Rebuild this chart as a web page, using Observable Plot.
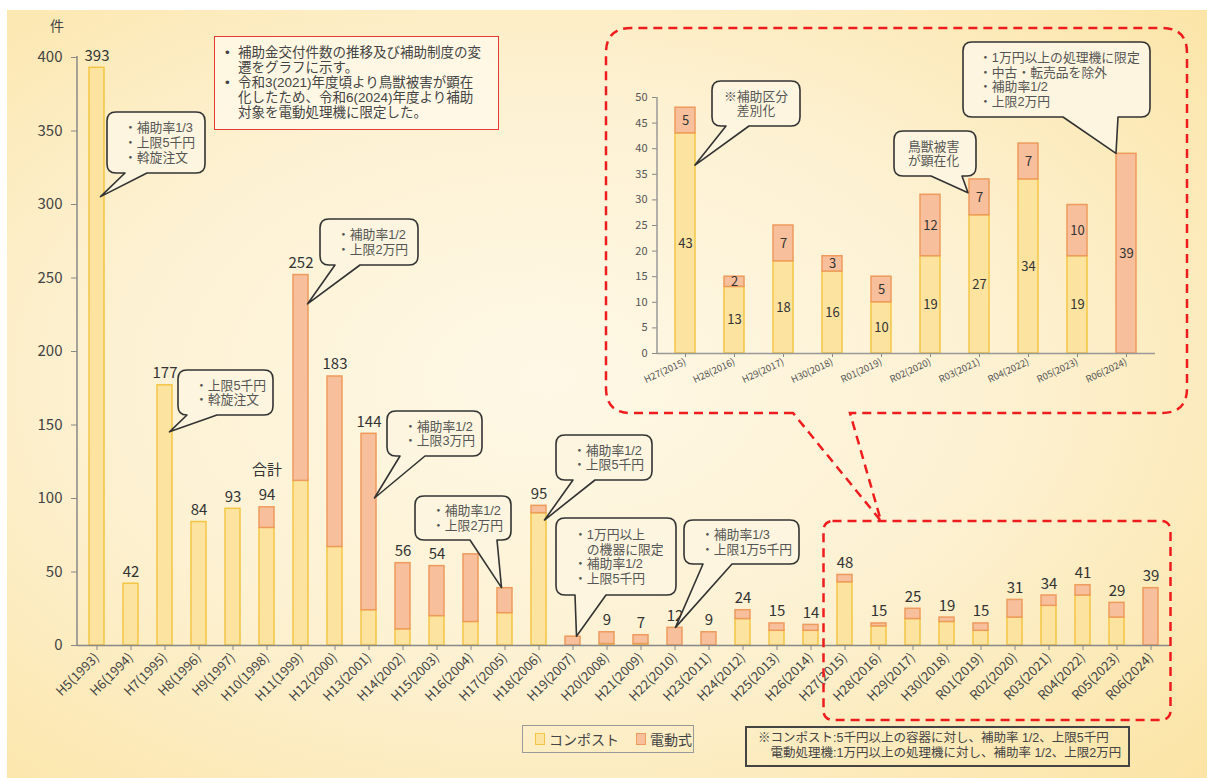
<!DOCTYPE html>
<html>
<head>
<meta charset="utf-8">
<script src="https://cdn.jsdelivr.net/npm/d3@7"></script>
<script src="https://cdn.jsdelivr.net/npm/@observablehq/plot@0.6"></script>
<style>
  body { margin: 0; background: #fff; font-family: "Noto Sans CJK JP", "Noto Sans", sans-serif; }
  #page { position: relative; width: 1207px; height: 778px; overflow: hidden; background: #fff; }
  #bg { position: absolute; left: 7px; top: 10px; right: 0; bottom: 0;
        background: radial-gradient(ellipse 75% 75% at 45% 48%, #fef8e6 0%, #fdf1d2 50%, #fbe4a5 100%); }
  #main { position: absolute; left: 0; top: 0; }
  #inset { position: absolute; left: 606px; top: 28px; }
  #overlay { position: absolute; left: 0; top: 0; pointer-events: none; }
  .tight { font-family: "Liberation Sans", "Noto Sans CJK JP", sans-serif; }
  #note { position: absolute; left: 214px; top: 36px; width: 285px; height: 94px; box-sizing: border-box;
          border: 1.5px solid #e53935; background: rgba(255,251,238,0.7); padding: 8px 4px 0 10px;
          font-size: 13.5px; line-height: 15px; color: #444; white-space: nowrap; }
  #note .item { display: flex; }
  #note .b { width: 13px; flex: none; }
  #legend { position: absolute; left: 522px; top: 725px; width: 172px; height: 28px; box-sizing: border-box;
            border: 1.5px solid #999; display: flex; align-items: center; padding-left: 12px;
            font-size: 14px; color: #444; white-space: nowrap; }
  #legend .sw { display: inline-block; width: 8px; height: 10px; border: 1.5px solid; margin-right: 4px; flex: none; }
  #legend .it { display: flex; align-items: center; margin-right: 17px; flex: none; }
  #cond { position: absolute; left: 745px; top: 726px; width: 385px; height: 41px; box-sizing: border-box;
          border: 2px solid #444; font-size: 12.5px; line-height: 14.5px; color: #444; padding: 3px 0 0 11px;
          white-space: nowrap; }
</style>
</head>
<body>
<div id="page">
  <div id="bg"></div>
  <div id="mainWrap"></div>
  <div id="insetWrap"></div>
  <div id="note" class="tight"></div>
  <div id="legend"></div>
  <div id="cond" class="tight"></div>
</div>
<script>
const FONT = '"Noto Sans CJK JP", "Noto Sans", sans-serif';
const TIGHT = '"Liberation Sans", "Noto Sans CJK JP", sans-serif';

// ---------- data ----------
const categories = ["H5(1993)","H6(1994)","H7(1995)","H8(1996)","H9(1997)","H10(1998)","H11(1999)","H12(2000)",
  "H13(2001)","H14(2002)","H15(2003)","H16(2004)","H17(2005)","H18(2006)","H19(2007)","H20(2008)","H21(2009)",
  "H22(2010)","H23(2011)","H24(2012)","H25(2013)","H26(2014)","H27(2015)","H28(2016)","H29(2017)","H30(2018)",
  "R01(2019)","R02(2020)","R03(2021)","R04(2022)","R05(2023)","R06(2024)"];
const compost  = [393,42,177,84,93,80,112,67,24,11,20,16,22,90,0,1,1,0,0,18,10,10,43,13,18,16,10,19,27,34,19,0];
const electric = [0,0,0,0,0,14,140,116,120,45,34,46,17,5,6,8,6,12,9,6,5,4,5,2,7,3,5,12,7,7,10,39];
const hiddenTotals = ["H16(2004)","H17(2005)","H19(2007)"];
const totalNote = {cat: "H10(1998)", text: "合計"};
const insetCategories = ["H27(2015)","H28(2016)","H29(2017)","H30(2018)","R01(2019)","R02(2020)","R03(2021)","R04(2022)","R05(2023)","R06(2024)"];
const series = ["コンポスト", "電動式"];
const yTicksMain = [0,50,100,150,200,250,300,350,400];
const yTicksInset = [0,5,10,15,20,25,30,35,40,45,50];
const yUnit = "件";

const noteLines = [
  ["補助金交付件数の推移及び補助制度の変", "遷をグラフに示す。"],
  ["令和3(2021)年度頃より鳥獣被害が顕在", "化したため、令和6(2024)年度より補助", "対象を電動処理機に限定した。"]
];
const condLines = [
  "※コンポスト:5千円以上の容器に対し、補助率 1/2、上限5千円",
  "　電動処理機:1万円以上の処理機に対し、補助率 1/2、上限2万円"
];

// callout texts and what they point at (category, value)
const mainCallouts = [
  {lines: ["・補助率1/3","・上限5千円","・斡旋注文"], cat: "H5(1993)", value: 305},
  {lines: ["・補助率1/2","・上限2万円"], cat: "H11(1999)", value: 232},
  {lines: ["・上限5千円","・斡旋注文"], cat: "H7(1995)", value: 145},
  {lines: ["・補助率1/2","・上限3万円"], cat: "H13(2001)", value: 100},
  {lines: ["・補助率1/2","・上限2万円"], cat: "H17(2005)", value: 39},
  {lines: ["・補助率1/2","・上限5千円"], cat: "H18(2006)", value: 85},
  {lines: ["・1万円以上","　の機器に限定","・補助率1/2","・上限5千円"], cat: "H19(2007)", value: 6},
  {lines: ["・補助率1/3","・上限1万5千円"], cat: "H22(2010)", value: 12}
];
const insetCallouts = [
  {lines: ["※補助区分","差別化"], cat: "H27(2015)", value: 36.7, center: true},
  {lines: ["鳥獣被害","が顕在化"], cat: "R03(2021)", value: 31.3},
  {lines: ["・1万円以上の処理機に限定","・中古・転売品を除外","・補助率1/2","・上限2万円"], cat: "R06(2024)", value: 39}
];

// ---------- layout (pixels) ----------
const mainCalloutLayout = [
  {box: [107,112,98,61], base: [125,147], dx: 4},
  {box: [320,219,98,46], base: [335,360], dx: 7},
  {box: [178,370,95,45], base: [187,217], dx: 5},
  {box: [387,411,95,45], base: [400,425], dx: 6},
  {box: [415,496,96,44], base: [470,497], dx: -3},
  {box: [556,435,96,45], base: [573,595], dx: 6},
  {box: [556,518,120,77], base: [575,606], dx: 4, pad: 18},
  {box: [684,520,115,44], base: [703,732], dx: 1}
];
const insetOrigin = [606, 28];
const insetCalloutLayout = [
  {box: [712,81,88,45], base: [726,749], dx: 10},
  {box: [894,131,82,45], base: [931,962], dx: -11, pad: 14},
  {box: [963,42,187,75], base: [1063,1118], dx: -10, pad: 16}
];

const fills = {"コンポスト": "#fde3a0", "電動式": "#f7bf9b"};
const strokes = {"コンポスト": "#f3c545", "電動式": "#ee9b5e"};

// ---------- derived tables ----------
const rows = categories.flatMap((c, i) => [
  {cat: c, type: series[0], value: compost[i]},
  {cat: c, type: series[1], value: electric[i]}
]).filter(d => d.value > 0);
const totals = categories.map((c, i) => ({cat: c, total: compost[i] + electric[i]}));
const insetRows = rows.filter(d => insetCategories.includes(d.cat));

// ---------- helpers ----------
function calloutPath(box, base, tx, ty) {
  const [x, y, w, h] = box, r = 9, b = y + h;
  return `M${base[0]},${b} L${tx},${ty} L${base[1]},${b} L${x+w-r},${b} Q${x+w},${b} ${x+w},${b-r} L${x+w},${y+r} Q${x+w},${y} ${x+w-r},${y} L${x+r},${y} Q${x},${y} ${x},${y+r} L${x},${b-r} Q${x},${b} ${x+r},${b} Z`;
}
function drawCallouts(g, scales, list, layout, origin) {
  const xs = scales.x, ys = scales.y;
  const bw = typeof xs.bandwidth === "function" ? xs.bandwidth() : 0;
  const [ox, oy] = origin;
  list.forEach((c, i) => {
    const L = layout[i];
    const box = [L.box[0]-ox, L.box[1]-oy, L.box[2], L.box[3]];
    const base = [L.base[0]-ox, L.base[1]-ox];
    const tx = xs(c.cat) + bw/2 + L.dx, ty = ys(c.value);
    g.append("path").attr("d", calloutPath(box, base, tx, ty))
      .attr("fill", "#fdf5df").attr("stroke", "#333").attr("stroke-width", 1.6).attr("stroke-linejoin", "round");
    const lh = 14.8, n = c.lines.length;
    const cy = box[1] + box[3]/2;
    c.lines.forEach((t, k) => {
      g.append("text")
        .attr("x", c.center ? box[0] + box[2]/2 : box[0] + (L.pad ?? 17))
        .attr("y", cy + (k - (n-1)/2) * lh)
        .attr("dominant-baseline", "central")
        .attr("text-anchor", c.center ? "middle" : "start")
        .attr("font-size", 12.8).attr("fill", "#555").attr("font-family", TIGHT)
        .text(t);
    });
  });
}

// ---------- main chart ----------
const main = Plot.plot({
  width: 1207, height: 725,
  marginLeft: 77, marginRight: 37, marginTop: 57, marginBottom: 80,
  style: {background: "transparent", fontFamily: FONT, fontSize: "14px", color: "#444", overflow: "visible"},
  x: {domain: categories, paddingInner: 0.57, paddingOuter: 0.285, label: null},
  y: {domain: [0, 400], label: null},
  marks: [
    Plot.axisY({ticks: yTicksMain, tickSize: 6, tickPadding: 9, fontSize: 15, color: "#444", stroke: "#888", label: null}),
    Plot.axisX({tickRotate: -45, tickSize: 5, tickPadding: 5, fontSize: 13, color: "#444", stroke: "#888", label: null}),
    Plot.barY(rows, {x: "cat", y: "value", fill: d => fills[d.type], stroke: d => strokes[d.type], strokeWidth: 1.5}),
    Plot.ruleY([0], {stroke: "#888", strokeWidth: 1.5}),
    Plot.text(totals.filter(d => !hiddenTotals.includes(d.cat)), {x: "cat", y: "total", text: d => String(d.total),
      lineAnchor: "bottom", dy: -7, fontSize: 15, fill: "#333"}),
    Plot.text(totals.filter(d => d.cat === totalNote.cat), {x: "cat", y: "total", text: () => totalNote.text,
      lineAnchor: "bottom", dy: -32, fontSize: 15, fill: "#333"}),
    (index, scales, values, dims) => {
      const g = d3.create("svg:g");
      const ys = scales.y, xs = scales.x;
      g.append("line").attr("x1", dims.marginLeft).attr("x2", dims.marginLeft)
        .attr("y1", ys(400) - 1).attr("y2", ys(0)).attr("stroke", "#888").attr("stroke-width", 1.5);
      g.append("text").attr("x", 57).attr("y", 25).attr("dominant-baseline", "central").attr("text-anchor", "middle")
        .attr("font-size", 14).attr("fill", "#444").attr("font-family", FONT).text(yUnit);
      // dashed frame around the zoomed years
      const step = xs.step(), bw = xs.bandwidth();
      const x0 = xs(insetCategories[0]) + bw/2 - step/2 - 4;
      const x1 = xs(insetCategories[insetCategories.length-1]) + bw/2 + step/2 + 3;
      g.append("rect").attr("x", x0).attr("y", 521).attr("width", x1 - x0).attr("height", 199)
        .attr("rx", 9).attr("fill", "none").attr("stroke", "#ee1c1c").attr("stroke-width", 2.5)
        .attr("stroke-dasharray", "9 6");
      drawCallouts(g, scales, mainCallouts, mainCalloutLayout, [0, 0]);
      return g.node();
    }
  ]
});
main.id = "main";
document.getElementById("mainWrap").appendChild(main);

// ---------- inset chart ----------
const inset = Plot.plot({
  width: 581, height: 385,
  marginLeft: 51, marginRight: 32, marginTop: 69, marginBottom: 60,
  style: {background: "transparent", fontFamily: FONT, fontSize: "11px", color: "#555", overflow: "visible"},
  x: {domain: insetCategories, paddingInner: 0.59, paddingOuter: 0.295, label: null},
  y: {domain: [0, 50], label: null},
  marks: [
    Plot.axisY({ticks: yTicksInset, tickSize: 5, tickPadding: 5, fontSize: 11, color: "#555", stroke: "#888", label: null}),
    Plot.axisX({tickRotate: -25, tickSize: 4, tickPadding: 4, fontSize: 9.5, color: "#555", stroke: "#888", label: null}),
    Plot.barY(insetRows, {x: "cat", y: "value", fill: d => fills[d.type], stroke: d => strokes[d.type], strokeWidth: 1.5}),
    Plot.ruleY([0], {stroke: "#999", strokeWidth: 1.5}),
    Plot.text(insetRows, Plot.stackY({x: "cat", y: "value", text: d => String(d.value), fontSize: 13, fill: "#333"})),
    (index, scales, values, dims) => {
      const g = d3.create("svg:g");
      g.append("line").attr("x1", dims.marginLeft).attr("x2", dims.marginLeft)
        .attr("y1", scales.y(50)).attr("y2", scales.y(0)).attr("stroke", "#999").attr("stroke-width", 1.5);
      drawCallouts(g, scales, insetCallouts, insetCalloutLayout, insetOrigin);
      return g.node();
    }
  ]
});
inset.id = "inset";
document.getElementById("insetWrap").appendChild(inset);

// ---------- overlay: dashed frame of the inset with its pointer ----------
(function () {
  const svg = d3.select("#page").append("svg").attr("id", "overlay").attr("width", 1207).attr("height", 778);
  const L = 606, T = 28, R = 1187, B = 413, r = 25, g0 = 793, g1 = 850, tip = [881, 521];
  const d = `M${g0},${B} L${L+r},${B} Q${L},${B} ${L},${B-r} L${L},${T+r} Q${L},${T} ${L+r},${T} L${R-r},${T} Q${R},${T} ${R},${T+r} L${R},${B-r} Q${R},${B} ${R-r},${B} L${g1},${B} L${tip[0]},${tip[1]} Z`;
  svg.append("path").attr("d", d).attr("fill", "none").attr("stroke", "#ee1c1c")
    .attr("stroke-width", 2.5).attr("stroke-dasharray", "9 6");
})();

// ---------- text boxes and legend ----------
const note = document.getElementById("note");
noteLines.forEach(item => {
  const div = document.createElement("div"); div.className = "item";
  const b = document.createElement("span"); b.className = "b"; b.textContent = "•";
  const t = document.createElement("span"); t.innerHTML = item.join("<br>");
  div.appendChild(b); div.appendChild(t); note.appendChild(div);
});
const legend = document.getElementById("legend");
series.forEach(s => {
  const it = document.createElement("span"); it.className = "it";
  const sw = document.createElement("span"); sw.className = "sw";
  sw.style.background = fills[s]; sw.style.borderColor = strokes[s];
  it.appendChild(sw); it.appendChild(document.createTextNode(s)); legend.appendChild(it);
});
document.getElementById("cond").innerHTML = condLines.join("<br>");
</script>
</body>
</html>
